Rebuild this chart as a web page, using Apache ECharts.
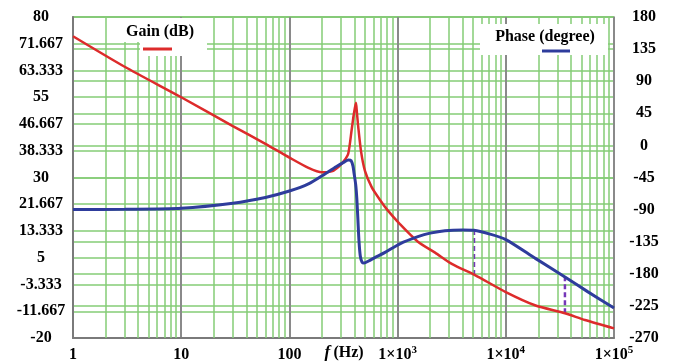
<!DOCTYPE html>
<html>
<head>
<meta charset="utf-8">
<script src="https://cdn.jsdelivr.net/npm/echarts@6/dist/echarts.min.js"></script>
<style>
  html, body { margin: 0; padding: 0; background: #fff; }
  #chart { width: 675px; height: 362px; }
</style>
</head>
<body>
<div id="chart"></div>
<script>
// gain curve (dB, left axis)
const gainFreq = [1, 3, 10, 30, 60, 100, 150, 200, 250, 290, 320, 350, 376, 395, 412, 420, 432, 460, 500, 576, 688, 800, 1050, 1540, 2220, 3200, 5190, 10000, 18600, 35200, 53900, 100000];
const gainDb = [74, 64.5, 55, 46, 40.5, 36.2, 33, 31.6, 32, 33.6, 35.2, 37.5, 44.8, 50, 53.3, 50.5, 46, 38, 32, 27, 23, 20, 15.5, 10, 6.6, 3, -0.4, -5.7, -9.8, -12.3, -14.4, -17];

// phase curve (degree, right axis)
const phaseFreq = [1, 3, 10, 30, 60, 100, 150, 213, 270, 320, 350, 372, 387, 395, 410, 420, 430, 440, 452, 470, 490, 540, 620, 766, 1050, 1540, 2000, 2740, 4000, 5080, 7000, 10000, 18600, 35200, 57000, 100000];
const phaseDeg = [-90, -89.5, -88, -81, -73, -64, -54, -40, -30, -23.5, -20.5, -21.5, -29, -38, -55, -75, -105, -135, -155, -164, -165, -162, -157, -150, -138, -128, -123, -119.5, -118.5, -119, -124, -132, -158, -184.5, -205, -228];

// dashed markers between the two curves
const markerFreq = [5080, 35200];
const markerGainDb = [-0.4, -12.3];
const markerPhaseDeg = [-119, -184.5];

// axis ticks
const xTickLabels = ['1', '10', '100', '1×10|3', '1×10|4', '1×10|5'];
const gainMin = -20, gainMax = 80;
const phaseMin = -270, phaseMax = 180, phaseStep = 45;

const green = '#84cc76';
const serif = 'Liberation Serif, Times New Roman, serif';

// phase value expressed in left-axis units (for the dashed markers)
function phaseToGain(p) {
    return gainMin + (p - phaseMin) * (gainMax - gainMin) / (phaseMax - phaseMin);
}

// minor vertical lines 2..9 in every decade
const minorLines = [];
for (let d = 0; d < 5; d++) {
    for (let k = 2; k <= 9; k++) {
        minorLines.push({ xAxis: k * Math.pow(10, d) });
    }
}

const markerSeries = markerFreq.map(function (f, i) {
    return {
        type: 'line',
        yAxisIndex: 0,
        symbol: 'none',
        z: 4,
        lineStyle: { color: '#7536b8', width: 2.5, type: [5, 3] },
        data: [[f, markerGainDb[i]], [f, phaseToGain(markerPhaseDeg[i])]]
    };
});

const chart = echarts.init(document.getElementById('chart'));
const option = {
    animation: false,
    grid: {
        left: 73, right: 61, top: 17, bottom: 24,
        containLabel: false,
        outerBoundsMode: 'none',
        show: true, borderColor: '#8a8a8a', borderWidth: 1.5
    },
    xAxis: {
        type: 'log',
        logBase: 10,
        min: 1,
        max: 100000,
        axisLine: { onZero: false, lineStyle: { color: '#7a7a7a', width: 2 } },
        axisTick: { show: false },
        splitLine: { show: true, lineStyle: { color: '#8a8a8a', width: 2 } },
        axisLabel: {
            margin: 7,
            formatter: function (v) {
                const lab = xTickLabels[Math.round(Math.log10(v))] || '';
                if (lab.indexOf('|') < 0) return '{b|' + lab + '}';
                const parts = lab.split('|');
                return '{b|' + parts[0] + '}{s|' + parts[1] + '}';
            },
            rich: {
                b: { fontFamily: serif, fontSize: 16, fontWeight: 'bold', color: '#000', lineHeight: 18, verticalAlign: 'bottom' },
                s: { fontFamily: serif, fontSize: 11, fontWeight: 'bold', color: '#000', lineHeight: 11, verticalAlign: 'top' }
            }
        }
    },
    yAxis: [
        {
            type: 'value',
            min: gainMin,
            max: gainMax,
            interval: (gainMax - gainMin) / 12,
            axisLine: { show: true, onZero: false, lineStyle: { color: '#7a7a7a', width: 2 } },
            axisTick: { show: false },
            splitLine: { show: true, lineStyle: { color: green, width: 1.5 } },
            axisLabel: {
                margin: 32,
                align: 'center',
                fontFamily: serif,
                fontSize: 16,
                fontWeight: 'bold',
                color: '#000',
                formatter: function (v) { return String(+v.toFixed(3)); }
            }
        },
        {
            type: 'value',
            min: phaseMin,
            max: phaseMax,
            interval: phaseStep,
            axisLine: { show: false, onZero: false },
            axisTick: { show: false },
            splitLine: { show: true, lineStyle: { color: green, width: 1.5 } },
            axisLabel: {
                margin: 30,
                align: 'center',
                fontFamily: serif,
                fontSize: 16,
                fontWeight: 'bold',
                color: '#000'
            }
        }
    ],
    graphic: [
        { type: 'rect', shape: { x: 112, y: 18, width: 86, height: 24 }, style: { fill: '#fff' }, z: 10 },
        { type: 'rect', shape: { x: 140, y: 42, width: 67, height: 14 }, style: { fill: '#fff' }, z: 10 },
        { type: 'text', x: 160, y: 32, z: 11, style: { text: 'Gain (dB)', fontFamily: serif, fontSize: 16, fontWeight: 'bold', fill: '#000', align: 'center', verticalAlign: 'middle' } },
        { type: 'line', shape: { x1: 143, y1: 49, x2: 172, y2: 49 }, style: { stroke: '#dd2b2b', lineWidth: 3 }, z: 11 },
        { type: 'rect', shape: { x: 480, y: 24, width: 128, height: 31 }, style: { fill: '#fff' }, z: 10 },
        { type: 'text', x: 545, y: 37, z: 11, style: { text: 'Phase (degree)', fontFamily: serif, fontSize: 16, fontWeight: 'bold', fill: '#000', align: 'center', verticalAlign: 'middle' } },
        { type: 'line', shape: { x1: 542, y1: 51, x2: 570, y2: 51 }, style: { stroke: '#2e3c9c', lineWidth: 3 }, z: 11 },
        {
            type: 'text', x: 344, y: 353, z: 11,
            style: {
                text: '{i|f} {n|(Hz)}',
                align: 'center', verticalAlign: 'middle',
                rich: {
                    i: { fontFamily: serif, fontSize: 17, fontStyle: 'italic', fontWeight: 'bold', fill: '#000' },
                    n: { fontFamily: serif, fontSize: 16, fontWeight: 'bold', fill: '#000' }
                }
            }
        }
    ],
    series: [
        {
            type: 'line',
            yAxisIndex: 0,
            symbol: 'none',
            silent: true,
            z: 1,
            data: [],
            markLine: {
                silent: true,
                symbol: 'none',
                label: { show: false },
                lineStyle: { color: green, width: 1.5, type: 'solid' },
                data: minorLines
            }
        },
        {
            name: 'Gain (dB)',
            type: 'line',
            yAxisIndex: 0,
            symbol: 'none',
            smooth: 0.25,
            z: 5,
            lineStyle: { color: '#dd2b2b', width: 2.5 },
            data: gainFreq.map(function (f, i) { return [f, gainDb[i]]; })
        },
        {
            name: 'Phase (degree)',
            type: 'line',
            yAxisIndex: 1,
            symbol: 'none',
            smooth: 0.25,
            z: 6,
            lineStyle: { color: '#2e3c9c', width: 3 },
            data: phaseFreq.map(function (f, i) { return [f, phaseDeg[i]]; })
        }
    ].concat(markerSeries)
};
chart.setOption(option);
</script>
</body>
</html>
